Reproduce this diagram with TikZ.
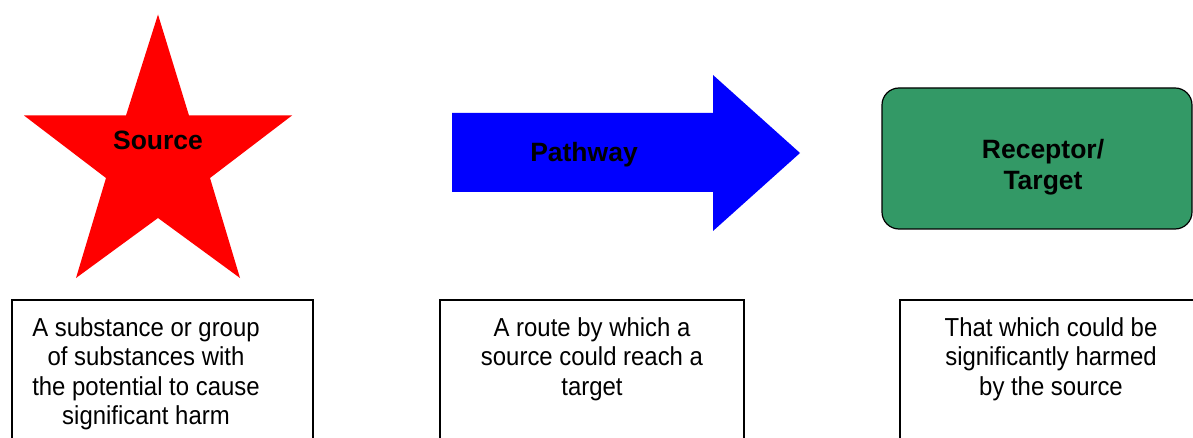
\documentclass[tikz,border=0pt]{standalone}
\usepackage{fontspec}
\setmainfont{Liberation Sans}
\newfontfamily\narrowsans[FakeStretch=0.92]{Liberation Sans}
\definecolor{starred}{RGB}{255,0,0}
\definecolor{arrowblue}{RGB}{0,0,255}
\definecolor{recgreen}{RGB}{51,153,102}
\tikzset{
  bigtitle/.style={font=\fontsize{26.5}{31}\selectfont\bfseries, align=center, inner sep=0pt, anchor=base},
  desctext/.style={font=\narrowsans\fontsize{26}{29.5}\selectfont, align=center, inner sep=0pt, anchor=base},
  descbox/.style={draw=black, line width=1.2pt, fill=none},
}
\begin{document}
\begin{tikzpicture}[x=1pt,y=-1pt]
\useasboundingbox (0,0) rectangle (1193,438);
% Star (source)
\fill[starred] (158,14.5) -- (189,115.5) -- (292,115.5) -- (210,178) -- (240,278)
  -- (158,218) -- (76,278) -- (106,178) -- (24,115.5) -- (126,115.5) -- cycle;
\node[bigtitle] (source) at (158,149.5) {Source};
% Arrow (pathway)
\fill[arrowblue] (452,113) -- (713,113) -- (713,75) -- (800,153) -- (713,231)
  -- (713,192) -- (452,192) -- cycle;
\node[bigtitle] (pathway) at (584,162) {Pathway};
% Receptor box
\draw[fill=recgreen, draw=black, line width=1.2pt, rounded corners=17pt]
  (882,88) rectangle (1192,229);
\node[bigtitle] (receptor) at (1043,190) {Receptor/\\Target};
% Description boxes
\draw[descbox] (12,460) -- (12,300) -- (313,300) -- (313,460);
\draw[descbox] (440,460) -- (440,300) -- (744,300) -- (744,460);
\draw[descbox] (900,460) -- (900,300) -- (1196,300);
\node[desctext] (d1) at (146,424.5) {A substance or group\\of substances with\\the potential to cause\\significant harm};
\node[desctext] (d2) at (592,395) {A route by which a\\source could reach a\\target};
\node[desctext] (d3) at (1051,395) {That which could be\\significantly harmed\\by the source};
\end{tikzpicture}
\end{document}
